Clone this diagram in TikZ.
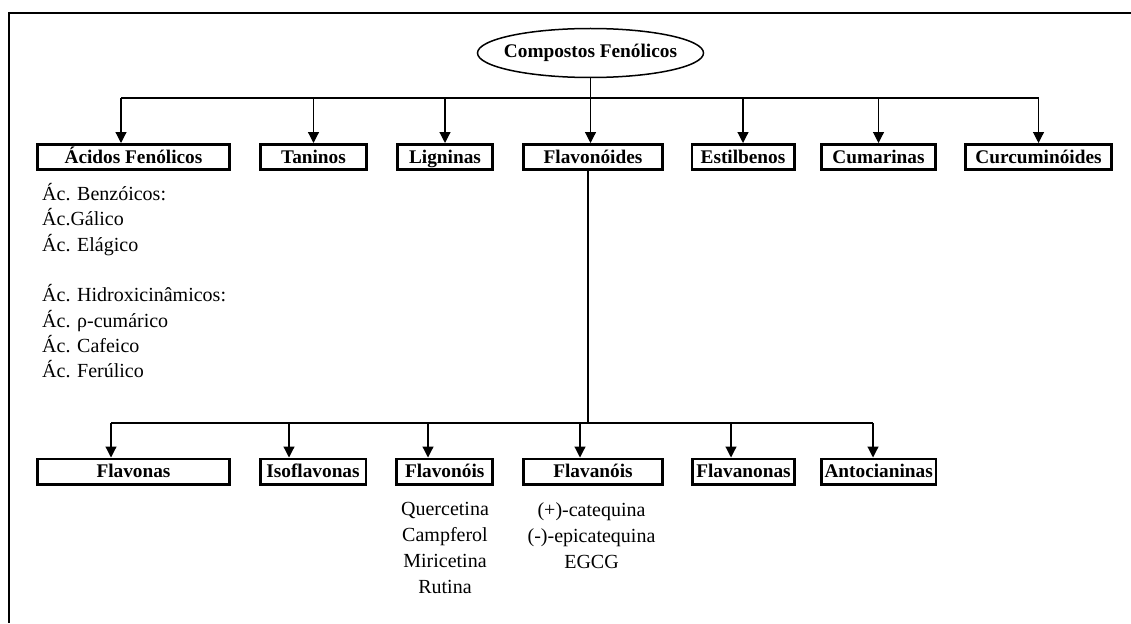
\documentclass[tikz,border=0pt]{standalone}
\usepackage{fontspec}
\setmainfont{Liberation Serif}
\usetikzlibrary{arrows.meta,shapes.geometric,positioning}

\begin{document}
\begin{tikzpicture}[x=1pt, y=-1pt,
    caixa/.style={draw, line width=2.8pt, font=\fontsize{19.3}{23}\selectfont\bfseries, minimum height=25.2pt,
        text height=12.5pt, text depth=0pt, inner sep=0pt},
    lista/.style={inner sep=0pt, font=\fontsize{20}{25.3}\selectfont},
    seta/.style={draw, line width=1.2pt, -{Triangle[length=11pt,width=11pt]}},
    linha/.style={draw, line width=1.2pt}]
    \useasboundingbox (0,0) rectangle (1131,623);
    % moldura
    \path[draw, line width=2.2pt] (8.2,13) -- (1131,13);
    \path[draw, line width=1.6pt] (9,12) -- (9,623);
    % raiz
    \node[draw, ellipse, line width=1.5pt, minimum width=226pt, minimum height=49pt, inner sep=0pt,
        font=\fontsize{19.3}{23}\selectfont\bfseries] (compostos) at (590.5,53) {\makebox[0pt]{Compostos Fenólicos}};
    % primeiro nivel
    \node[caixa, minimum width=192.2pt] (acidos) at (133.5,157) {Ácidos Fenólicos};
    \node[caixa, minimum width=106.2pt] (taninos) at (313.5,157) {Taninos};
    \node[caixa, minimum width=95.2pt] (ligninas) at (445,157) {Ligninas};
    \node[caixa, minimum width=139.2pt] (flavonoides) at (593,157) {Flavonóides};
    \node[caixa, minimum width=102.2pt] (estilbenos) at (743,157) {Estilbenos};
    \node[caixa, minimum width=114.2pt] (cumarinas) at (878.5,157) {Cumarinas};
    \node[caixa, minimum width=146.2pt] (curcuminoides) at (1038.5,157) {Curcuminóides};
    % barra de cima
    \coordinate (barra1e) at (121,98);
    \coordinate (barra1d) at (1039,98);
    \path[linha] (barra1e) -- (barra1d);
    \path[seta] (barra1e) -- (barra1e |- acidos.north);
    \foreach \no in {taninos, ligninas, estilbenos, cumarinas, curcuminoides}
        \path[seta] (\no.north |- barra1e) -- (\no.north);
    \path[seta] (compostos.south) -- (compostos.south |- flavonoides.north);
    % acidos
    \foreach \i/\yy/\txt in {1/200.5/Ác. Benzóicos:, 2/225.8/Ác.Gálico, 3/251.1/Ác. Elágico,
        4/301.7/Ác. Hidroxicinâmicos:, 5/327/Ác. ρ-cumárico, 6/352.3/Ác. Cafeico, 7/377.6/Ác. Ferúlico}
        \node[lista, anchor=base west] (acido\i) at (42,\yy) {\txt};
    % segundo nivel
    \node[caixa, minimum width=192.2pt] (flavonas) at (133.5,471.5) {Flavonas};
    \node[caixa, minimum width=105.8pt] (isoflavonas) at (313,471.5) {Isoflavonas};
    \node[caixa, minimum width=96.2pt] (flavonois) at (444.7,471.5) {Flavonóis};
    \node[caixa, minimum width=139.2pt] (flavanois) at (593,471.5) {Flavanóis};
    \node[caixa, minimum width=102.2pt] (flavanonas) at (743.5,471.5) {Flavanonas};
    \node[caixa, minimum width=114.5pt] (antocianinas) at (878.7,471.5) {Antocianinas};
    % barra de baixo
    \coordinate (barra2m) at (588,423);
    \coordinate (barra2e) at (111,423);
    \coordinate (barra2d) at (873,423);
    \path[linha] (barra2m |- flavonoides.south) -- (barra2m);
    \path[linha] (barra2e) -- (barra2d);
    \foreach \no/\xx in {flavonas/111, isoflavonas/289, flavonois/428, flavanois/580, flavanonas/731, antocianinas/873}{
        \coordinate (s\no) at (\xx,423);
        \path[seta] (s\no) -- (s\no |- \no.north);
    }
    % exemplos
    \node[lista, anchor=north, align=center, font=\fontsize{20}{26}\selectfont] (flavonoislista) at (445,502)
        {Quercetina\\ Campferol\\ Miricetina\\ Rutina};
    \node[lista, anchor=north, align=center, font=\fontsize{20}{26}\selectfont] (flavanoislista) at (591.5,502)
        {(+)-catequina\\ (-)-epicatequina\\ EGCG};
\end{tikzpicture}
\end{document}
